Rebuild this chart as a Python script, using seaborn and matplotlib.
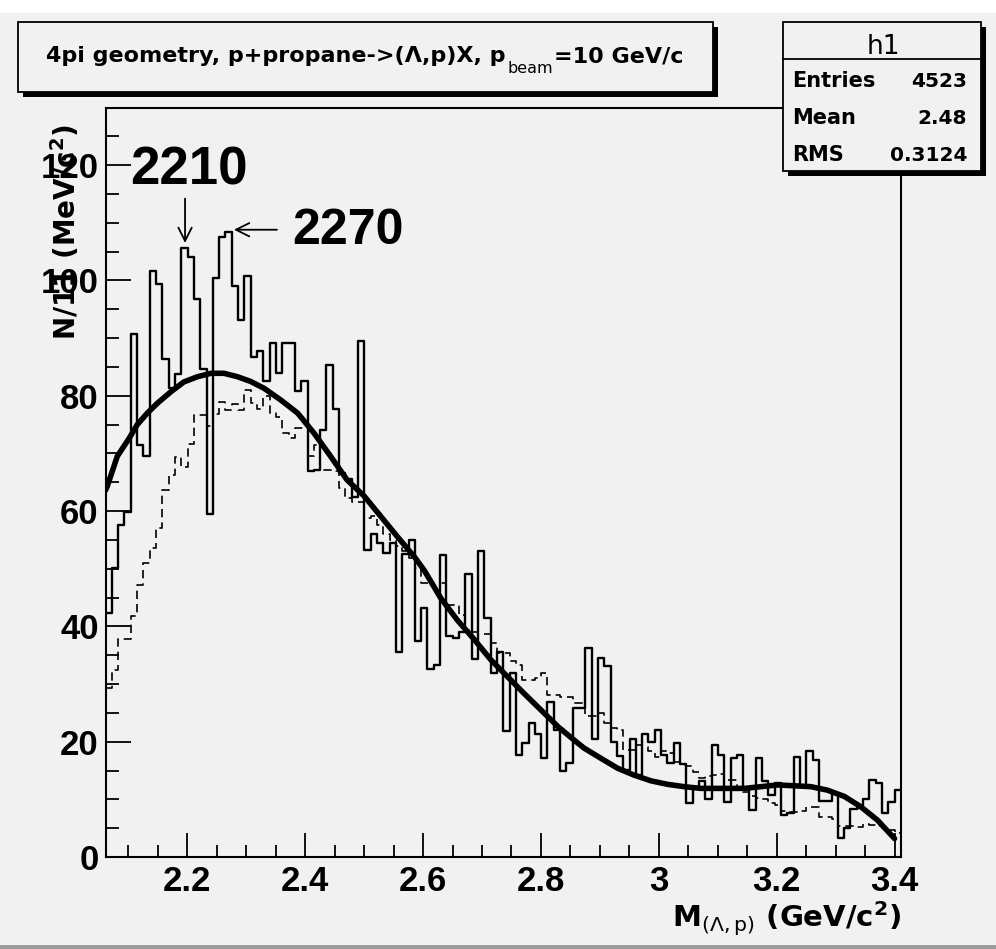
import numpy as np
import pandas as pd
import matplotlib
matplotlib.use("Agg")
import matplotlib.pyplot as plt
from matplotlib.patches import Rectangle
from matplotlib.lines import Line2D
from matplotlib.ticker import MultipleLocator
import seaborn as sns

# ---- histogram binning: M(Lambda,p) in GeV/c^2 ----
x_min, x_max = 2.061, 3.411
n_bins = 126

# measured (Lambda,p) invariant-mass spectrum, counts per bin
solid_counts = [
    42.3, 50.1, 57.6, 59.9, 90.8, 71.4, 69.5, 101.7, 99.3, 86.4,
    81.3, 83.8, 105.6, 104.1, 96.8, 84.7, 59.5, 100.4, 107.5, 108.4,
    99.0, 93.2, 100.8, 86.8, 87.7, 82.5, 89.2, 83.9, 89.2, 89.2,
    80.9, 82.6, 66.9, 67.1, 74.1, 85.3, 77.7, 66.6, 65.5, 62.5,
    89.5, 53.3, 56.0, 54.4, 52.7, 54.5, 35.6, 52.5, 55.0, 37.5,
    43.2, 32.6, 33.3, 52.4, 38.3, 38.0, 39.1, 49.0, 34.4, 53.0,
    41.5, 32.0, 35.6, 21.9, 31.9, 17.7, 19.7, 23.2, 21.3, 17.1,
    26.8, 22.0, 14.9, 16.3, 25.9, 25.8, 36.2, 20.4, 34.5, 33.2,
    20.0, 17.5, 15.1, 20.4, 14.2, 21.3, 20.0, 22.0, 17.7, 16.3,
    19.7, 16.2, 9.3, 12.2, 13.1, 10.0, 19.4, 17.7, 9.5, 17.1,
    17.7, 12.0, 8.2, 17.1, 13.2, 10.7, 12.8, 7.3, 7.6, 17.4,
    12.3, 18.3, 16.9, 9.7, 9.7, 10.9, 3.3, 5.0, 8.3, 8.5,
    10.0, 13.4, 12.8, 7.6, 9.6, 11.6,
]

# background spectrum (dashed)
dashed_counts = [
    29.3, 32.4, 37.8, 37.8, 41.8, 47.2, 51.0, 53.6, 57.0, 63.7,
    66.3, 69.3, 67.7, 71.6, 76.6, 76.6, 74.7, 76.8, 79.0, 77.6,
    78.6, 77.6, 81.0, 78.8, 77.7, 80.0, 77.0, 76.4, 73.5, 72.6,
    74.4, 74.4, 69.5, 71.5, 67.2, 67.2, 67.0, 64.0, 62.2, 61.6,
    61.6, 58.8, 59.1, 57.6, 56.0, 55.0, 54.0, 53.0, 51.8, 50.1,
    47.5, 47.5, 46.0, 47.5, 43.7, 43.7, 42.0, 39.4, 39.0, 38.7,
    38.7, 37.1, 35.3, 35.3, 34.0, 33.3, 30.7, 30.7, 31.0, 32.0,
    28.1, 28.1, 27.7, 27.7, 26.7, 26.7, 24.4, 24.4, 25.0, 23.2,
    22.3, 22.0, 18.6, 18.6, 19.4, 19.0, 18.3, 17.4, 18.3, 18.0,
    16.5, 16.0, 15.7, 14.8, 13.7, 14.0, 14.2, 14.4, 13.4, 13.4,
    11.6, 11.2, 10.6, 10.2, 10.0, 9.3, 9.0, 8.0, 7.8, 7.8,
    8.0, 8.7, 8.6, 7.0, 6.9, 6.6, 5.3, 5.4, 5.3, 5.2,
    5.7, 5.5, 5.3, 5.0, 4.6, 4.2,
]

# background fit curve, sampled
fit_x = [2.061, 2.064, 2.081, 2.101, 2.115, 2.132, 2.149, 2.172, 2.194, 2.217,
         2.240, 2.262, 2.285, 2.307, 2.330, 2.358, 2.387, 2.415, 2.443, 2.471,
         2.500, 2.528, 2.556, 2.585, 2.602, 2.630, 2.658, 2.687, 2.715, 2.743,
         2.771, 2.800, 2.829, 2.856, 2.873, 2.902, 2.930, 2.958, 2.987, 3.015,
         3.043, 3.071, 3.100, 3.145, 3.202, 3.258, 3.286, 3.315, 3.343, 3.371,
         3.400]
fit_y = [63.6, 64.3, 69.5, 72.6, 75.0, 77.0, 78.7, 80.7, 82.4, 83.3,
         83.9, 83.9, 83.3, 82.5, 81.3, 79.3, 77.0, 73.5, 69.5, 65.4,
         62.6, 59.1, 55.6, 52.1, 49.7, 44.9, 41.1, 37.7, 34.2, 31.3,
         28.4, 25.5, 22.6, 20.3, 18.9, 17.1, 15.4, 14.2, 13.2, 12.6,
         12.2, 11.9, 11.9, 11.9, 12.5, 12.2, 11.6, 10.5, 8.7, 6.4,
         3.2]

# peak annotations
peak_labels = ["2210", "2270"]

# statistics box
stats_name = "h1"
stats_rows = [("Entries", "4523"), ("Mean", "2.48"), ("RMS", "0.3124")]

# title pieces: main text, subscript, remainder
title_parts = ["4pi geometry, p+propane->(Λ,p)X, p", "beam", "=10 GeV/c"]
x_title = r"M$_{\mathsf{(\Lambda,p)}}$ (GeV/c$^{2}$)"
y_title = r"N/11 (MeV/c$^{2}$)"

# ---- style ----
BG = "#f1f1f1"
sns.set_theme(style="ticks")
plt.rcParams["font.family"] = ["Liberation Sans", "DejaVu Sans"]
plt.rcParams["text.color"] = "black"
plt.rcParams["axes.labelcolor"] = "black"
plt.rcParams["xtick.color"] = "black"
plt.rcParams["ytick.color"] = "black"
plt.rcParams["mathtext.fontset"] = "custom"
plt.rcParams["mathtext.rm"] = "DejaVu Sans:bold"
plt.rcParams["mathtext.it"] = "DejaVu Sans:bold"
plt.rcParams["mathtext.bf"] = "DejaVu Sans:bold"
plt.rcParams["mathtext.sf"] = "DejaVu Sans"
plt.rcParams["mathtext.default"] = "regular"

W, H = 996, 949
fig = plt.figure(figsize=(W / 100, H / 100), dpi=100, facecolor=BG)


def fx(px):
    return px / W


def fy(py):
    return 1 - py / H


ax = fig.add_axes([fx(105.5), fy(857), fx(901) - fx(105.5), fy(107.5) - fy(857)])
ax.set_facecolor(BG)

df = pd.DataFrame({
    "mass": np.linspace(x_min, x_max, 2 * n_bins + 1)[1::2],
    "signal": solid_counts,
    "background": dashed_counts,
})

sns.histplot(data=df, x="mass", weights="background", bins=n_bins, binrange=(x_min, x_max),
             element="step", fill=False, color="black", linewidth=1.2,
             linestyle=(0, (5, 3)), ax=ax)
sns.histplot(data=df, x="mass", weights="signal", bins=n_bins, binrange=(x_min, x_max),
             element="step", fill=False, color="black", linewidth=1.7, ax=ax)
sns.lineplot(x=fit_x, y=fit_y, color="black", linewidth=4.0, sort=False, ax=ax)

ax.set_xlim(x_min, x_max)
ax.set_ylim(0, 130.0)
ax.set_xlabel("")
ax.set_ylabel("")

ax.xaxis.set_minor_locator(MultipleLocator(0.05))
ax.yaxis.set_major_locator(MultipleLocator(20))
ax.yaxis.set_minor_locator(MultipleLocator(5))
ax.set_xticks([2.2, 2.4, 2.6, 2.8, 3.0, 3.2, 3.4])
ax.set_xticklabels(["2.2", "2.4", "2.6", "2.8", "3", "3.2", "3.4"])
ax.tick_params(axis="both", which="both", direction="in", color="black",
               labelcolor="black", width=1.3)
ax.tick_params(axis="y", which="major", length=18, pad=5, labelsize=25)
ax.tick_params(axis="y", which="minor", length=9.5)
ax.tick_params(axis="x", which="major", length=17, pad=6, labelsize=25)
ax.tick_params(axis="x", which="minor", length=8.5)
for lab in ax.get_xticklabels() + ax.get_yticklabels():
    lab.set_fontweight("bold")
for sp in ax.spines.values():
    sp.set_visible(True)
    sp.set_color("black")
    sp.set_linewidth(1.5)

# peak markers
arrow_kw = dict(arrowstyle="->", lw=1.3, color="black", mutation_scale=24,
                shrinkA=0, shrinkB=0)
ax.annotate("", xy=(2.196, 106.5), xytext=(2.196, 114.2), arrowprops=arrow_kw)
ax.annotate("", xy=(2.279, 108.8), xytext=(2.352, 108.8), arrowprops=arrow_kw)
ax.text(2.103, 116.6, peak_labels[0], fontsize=38, fontweight="bold", va="baseline")
ax.text(2.378, 106.4, peak_labels[1], fontsize=36, fontweight="bold", va="baseline")

# axis titles
fig.text(fx(901), fy(927), x_title, ha="right", va="baseline", fontsize=21,
         family="DejaVu Sans", fontweight="bold")
fig.text(fx(66), fy(124), y_title, ha="center", va="top", rotation=90,
         fontsize=20, family="DejaVu Sans", fontweight="bold")

# canvas trim
fig.patches.append(Rectangle((0, fy(12.7)), 1, 12.7 / H, transform=fig.transFigure,
                             facecolor="white", edgecolor="none", zorder=0.5))
fig.patches.append(Rectangle((0, 0), 1, 4 / H, transform=fig.transFigure,
                             facecolor="#9c9c9c", edgecolor="none", zorder=0.5))


def boxed(x0, y0, x1, y1):
    # pave with a drop shadow
    fig.patches.append(Rectangle((fx(x0 + 5), fy(y1 + 5)), fx(x1) - fx(x0), fy(y0) - fy(y1),
                                 transform=fig.transFigure, facecolor="black",
                                 edgecolor="none", zorder=2))
    fig.patches.append(Rectangle((fx(x0), fy(y1)), fx(x1) - fx(x0), fy(y0) - fy(y1),
                                 transform=fig.transFigure, facecolor=BG,
                                 edgecolor="black", linewidth=1.3, zorder=2.1))


renderer = fig.canvas.get_renderer()

# title pave: text laid out piece by piece so the subscript sits low
boxed(18, 21.7, 712.7, 91.7)
t_main = fig.text(fx(46), fy(62), title_parts[0], ha="left", va="baseline", fontsize=16,
                  family="DejaVu Sans", fontweight="bold", zorder=3)
x_end = t_main.get_window_extent(renderer).x1
t_sub = fig.text((x_end + 2) / W, fy(73), title_parts[1], ha="left", va="baseline",
                 fontsize=11.5, family="DejaVu Sans", zorder=3)
x_end = t_sub.get_window_extent(renderer).x1
fig.text((x_end + 1) / W, fy(62), title_parts[2], ha="left", va="baseline", fontsize=16,
         family="DejaVu Sans", fontweight="bold", zorder=3)

# statistics pave
boxed(782.7, 21.7, 981, 170.7)
fig.lines.append(Line2D([fx(782.7), fx(981)], [fy(59.3), fy(59.3)], transform=fig.transFigure,
                        color="black", linewidth=1.3, zorder=2.2))
fig.text(fx(883), fy(54), stats_name, ha="center", va="baseline", fontsize=19,
         family="DejaVu Sans", fontweight="normal", zorder=3)
for i, (k, v) in enumerate(stats_rows):
    yy = fy(87.3 + 36.7 * i)
    fig.text(fx(791.7), yy, k, ha="left", va="baseline", fontsize=15,
             family="DejaVu Sans", fontweight="bold", zorder=3)
    fig.text(fx(967.3), yy, v, ha="right", va="baseline", fontsize=14.5,
             family="DejaVu Sans", fontweight="bold", zorder=3)

fig.savefig("out.png", dpi=100, facecolor=BG)
